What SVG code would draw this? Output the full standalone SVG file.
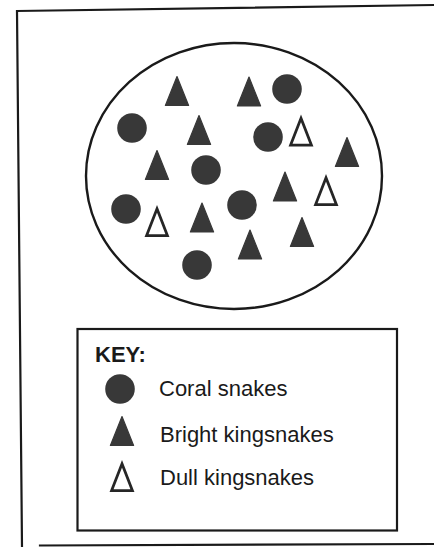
<svg xmlns="http://www.w3.org/2000/svg" xmlns:xlink="http://www.w3.org/1999/xlink" width="434" height="547" viewBox="0 0 434 547">
  <style>
    .frame { fill: none; stroke: #1a1a1a; stroke-width: 2.2; stroke-linecap: square; }
    .coral { fill: #383838; }
    .bright { fill: #383838; stroke: #383838; stroke-width: 1.2; stroke-linejoin: round; }
    .dull { fill: #ffffff; stroke: #262626; stroke-width: 2.8; stroke-linejoin: miter; }
    .label { font-family: "Liberation Sans", Arial, sans-serif; font-size: 22px; fill: #1a1a1a; }
    .keytitle { font-family: "Liberation Sans", Arial, sans-serif; font-size: 22px; font-weight: bold; fill: #1a1a1a; }
  </style>
  <defs>
    <polygon id="tri" points="0,-14.5 11.6,14.5 -11.6,14.5"/>
    <polygon id="otri" points="0,-13.2 10.4,13.6 -10.4,13.6"/>
  </defs>
  <rect width="434" height="547" fill="#ffffff"/>

  <g id="frame">
    <path class="frame" d="M17,11 L434,5 M17,11 L22,547 M40,545.5 L434,544"/>
  </g>

  <g id="population">
    <ellipse cx="234" cy="176" rx="148" ry="133" fill="none" stroke="#1a1a1a" stroke-width="2.4"/>
  </g>

  <g id="coral-snakes">
    <circle class="coral" cx="287" cy="89" r="14.8"/>
    <circle class="coral" cx="132" cy="128" r="14.8"/>
    <circle class="coral" cx="268" cy="137" r="14.8"/>
    <circle class="coral" cx="206" cy="170" r="14.8"/>
    <circle class="coral" cx="126" cy="209" r="14.8"/>
    <circle class="coral" cx="242" cy="205" r="14.8"/>
    <circle class="coral" cx="197" cy="265" r="14.8"/>
  </g>

  <g id="bright-kingsnakes">
    <use class="bright" xlink:href="#tri" x="177" y="91"/>
    <use class="bright" xlink:href="#tri" x="249" y="91.5"/>
    <use class="bright" xlink:href="#tri" x="199" y="130"/>
    <use class="bright" xlink:href="#tri" x="347" y="152"/>
    <use class="bright" xlink:href="#tri" x="157" y="165"/>
    <use class="bright" xlink:href="#tri" x="285" y="186.5"/>
    <use class="bright" xlink:href="#tri" x="202" y="217.5"/>
    <use class="bright" xlink:href="#tri" x="302" y="232"/>
    <use class="bright" xlink:href="#tri" x="250" y="244.5"/>
  </g>

  <g id="dull-kingsnakes">
    <use class="dull" xlink:href="#otri" x="301" y="131.5"/>
    <use class="dull" xlink:href="#otri" x="326" y="191"/>
    <use class="dull" xlink:href="#otri" x="157" y="222"/>
  </g>

  <g id="key">
    <rect x="77.5" y="329" width="319.5" height="201.5" fill="none" stroke="#1a1a1a" stroke-width="2.2"/>
    <text class="keytitle" x="95" y="362">KEY:</text>
    <circle class="coral" cx="120" cy="389" r="14.8"/>
    <text class="label" x="159" y="396">Coral snakes</text>
    <use class="bright" xlink:href="#tri" x="122" y="431"/>
    <text class="label" x="160" y="442">Bright kingsnakes</text>
    <use class="dull" xlink:href="#otri" x="122" y="477"/>
    <text class="label" x="160" y="485">Dull kingsnakes</text>
  </g>
</svg>
